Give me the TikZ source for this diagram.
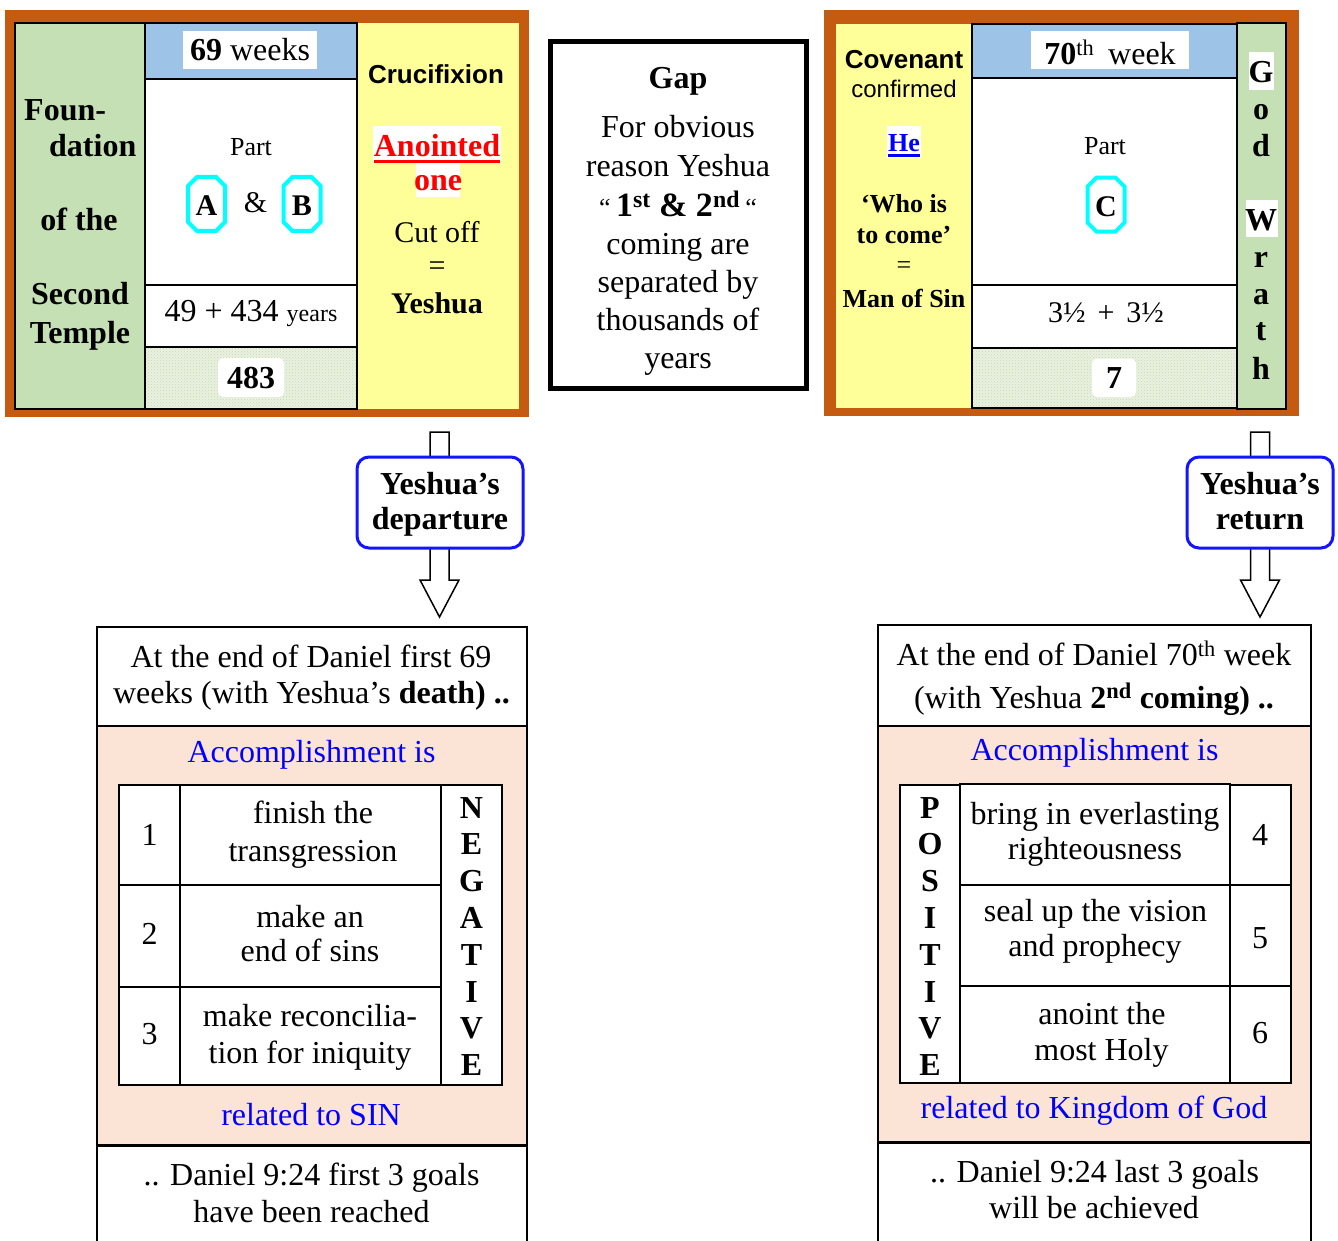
\documentclass[tikz,border=0pt]{standalone}
\usepackage{fontspec}
\setmainfont{Liberation Serif}
\newfontfamily\arialf{Liberation Sans}
\usetikzlibrary{fit,calc,patterns}
\definecolor{orng}{RGB}{197,90,17}
\definecolor{grn}{RGB}{197,224,180}
\definecolor{blu}{RGB}{157,195,230}
\definecolor{yel}{RGB}{255,255,153}
\definecolor{pnk}{RGB}{251,228,213}
\definecolor{patbg}{RGB}{234,241,224}
\definecolor{patfg}{RGB}{196,216,178}
\definecolor{ybl}{RGB}{20,20,255}
\definecolor{cyn}{RGB}{0,255,255}
\newcommand\blockarrow[2]{%
  \draw[line width=1.5pt, fill=white] ($(#1)+(-9.5,0)$) -- ($(#1)+(9.5,0)$) -- ($(#2)+(9.5,-37)$) -- ($(#2)+(19.5,-37)$) -- (#2) -- ($(#2)+(-19.5,-37)$) -- ($(#2)+(-9.5,-37)$) -- cycle;}
\newcommand\octagonat[1]{%
  \draw[cyn, line width=4pt, fill=white] ($(#1)+(-18.5,-18)$) -- ($(#1)+(-9.5,-27)$) -- ($(#1)+(9.5,-27)$) -- ($(#1)+(18.5,-18)$) -- ($(#1)+(18.5,18)$) -- ($(#1)+(9.5,27)$) -- ($(#1)+(-9.5,27)$) -- ($(#1)+(-18.5,18)$) -- cycle;}
\begin{document}
\begin{tikzpicture}[x=1pt,y=-1pt,
  blk/.style={inner sep=0pt, outer sep=0pt},
  cell/.style={blk, draw, line width=2pt},
  hatch/.style={fill=patbg, postaction={pattern=crosshatch dots, pattern color=patfg}},
  txt/.style={inner sep=0pt, anchor=base, font=\fontsize{32}{38}\selectfont},
  txtb/.style={txt, font=\bfseries\fontsize{32}{38}\selectfont},
  cth/.style={txt, font=\fontsize{30}{36}\selectfont},
  cthb/.style={txt, font=\bfseries\fontsize{30}{36}\selectfont},
  mid/.style={txt, font=\fontsize{26}{30}\selectfont},
  midb/.style={txt, font=\bfseries\fontsize{26}{30}\selectfont},
  sans/.style={txt, font=\arialf\fontsize{24}{28}\selectfont},
  sansb/.style={txt, font=\arialf\bfseries\fontsize{26}{30}\selectfont},
  octl/.style={inner sep=0pt, font=\bfseries\fontsize{30}{34}\selectfont},
  ybox/.style={blk, draw=ybl, line width=3pt, rounded corners=12pt, fill=white},
  blueT/.style={txt, text=blue}
]
\useasboundingbox (0,0) rectangle (1338,1241);
\fill[white] (0,0) rectangle (1338,1241);

% ================= TOP LEFT =================
\node[blk, fill=orng, fit={(5,10)(529,417)}] (tl) {};
\node[blk, fill=yel, fit={(357,23)(519,409)}] (tlyel) {};
\node[cell, fill=grn, fit={(15,23)(145,409)}] (tlgrn) {};
\node[cell, fill=blu, fit={(145,23)(357,79)}] (tlhead) {};
\node[cell, fill=white, fit={(145,79)(357,285)}] (tlpart) {};
\node[cell, fill=white, fit={(145,285)(357,347)}] (tlyears) {};
\node[cell, hatch, fit={(145,347)(357,409)}] (tlsum) {};
\draw[line width=2pt] (tlsum.north west) rectangle (tlsum.south east);

\node[txtb, anchor=base west] (f1) at (24,121) {Foun-};
\node[txtb, anchor=base west] (f2) at (49,157) {dation};
\node[txtb] (f3) at (79,231) {of the};
\node[txtb] (f4) at (80,305) {Second};
\node[txtb] (f5) at (80,343) {Temple};

\node[blk, fill=white, fit={(183,31)(317,69)}] (w69box) {};
\node[txt] (w69) at (250,61) {\textbf{69} weeks};
\node[mid] (tlparttxt) at (251,156) {Part};
\coordinate (octA) at (206.5,204);
\octagonat{octA}
\node[octl] (oA) at (206.5,206) {A};
\node[cth] (amp) at (255.5,213) {\&};
\coordinate (octB) at (302,204);
\octagonat{octB}
\node[octl] (oB) at (302,206) {B};
\node[txt] (yrs) at (251,321) {49 + 434 {\fontsize{24}{28}\selectfont years}};
\node[blk, fill=white, rounded corners=5pt, fit={(218,358)(284,397)}] (b483) {};
\node[txtb] (t483) at (251,388) {483};

\node[sansb] (cruc) at (436,84) {Crucifixion};
\node[blk, fill=white, fit={(373,126)(501,163)}] (anbox) {};
\node[txtb, text=red] (anoint) at (437,157) {Anointed};
\draw[red, line width=3pt] ([yshift=-4.5pt]anoint.base west) -- ([yshift=-4.5pt]anoint.base east);
\node[blk, fill=white, fit={(416,163)(460,197)}] (onebox) {};
\node[txtb, text=red] (one) at (438,191) {one};
\node[cth] (cut) at (437,242.5) {Cut off};
\node[cth, anchor=center] (eq1) at (437,269) {=};
\node[cthb] (yesh) at (437,313) {Yeshua};

% ================= GAP =================
\node[blk, draw, line width=5pt, fill=white, fit={(550,42)(806,388)}] (gap) {};
\node[txtb] (gapt) at (678,89) {Gap};
\node[txt] (g1) at (678,138) {For obvious};
\node[txt] (g2) at (678,176.5) {reason Yeshua};
\node[txt] (g3) at (678,217) {{\fontsize{26}{30}\selectfont “}\,\textbf{\fontsize{34}{38}\selectfont 1\textsuperscript{st} \& 2\textsuperscript{nd}}\,{\fontsize{26}{30}\selectfont “}};
\node[txt] (g4) at (678,255) {coming are};
\node[txt] (g5) at (678,292.5) {separated by};
\node[txt] (g6) at (678,330.5) {thousands of};
\node[txt] (g7) at (678,368) {years};

% ================= TOP RIGHT =================
\node[blk, fill=orng, fit={(824,10)(1299,416)}] (tr) {};
\node[blk, fill=yel, fit={(836,24)(972,408)}] (tryel) {};
\node[cell, fill=blu, fit={(972,24)(1237,78)}] (trhead) {};
\node[cell, fill=white, fit={(972,78)(1237,285)}] (trpart) {};
\node[cell, fill=white, fit={(972,285)(1237,348)}] (trhalf) {};
\node[cell, hatch, fit={(972,348)(1237,408)}] (trsum) {};
\draw[line width=2pt] (trsum.north west) rectangle (trsum.south east);
\node[cell, fill=grn, fit={(1237,23)(1286,409)}] (trgrn) {};

\node[sansb] (cov) at (904,69) {Covenant};
\node[sans] (conf) at (904,98) {confirmed};
\node[blk, fill=white, fit={(887,126)(921,158)}] (hebox) {};
\node[midb, text=blue] (he) at (904,152) {He};
\draw[blue, line width=2.5pt] ([yshift=-3.5pt]he.base west) -- ([yshift=-3.5pt]he.base east);
\node[midb] (who1) at (904,213) {‘Who is};
\node[midb] (who2) at (904,244) {to come’};
\node[mid, anchor=center] (eq2) at (904,267.5) {=};
\node[midb] (mos) at (904,307.5) {Man of Sin};

\node[blk, fill=white, fit={(1031,31)(1189,69)}] (w70box) {};
\node[txt] (w70) at (1110,65) {\textbf{70}\textsuperscript{th}\hspace{14pt}week};
\node[mid] (trparttxt) at (1105,154.5) {Part};
\coordinate (octC) at (1106,204.6);
\octagonat{octC}
\node[octl] (oC) at (1106,206.6) {C};
\node[cth] (half) at (1106,322.7) {3½\hspace{12pt}+\hspace{12pt}3½};
\node[blk, fill=white, rounded corners=5pt, fit={(1092,358.5)(1136,397)}] (b7box) {};
\node[txtb] (t7) at (1114,388.6) {7};

\node[blk, fill=white, fit={(1249,52.5)(1274,89.6)}] (gbox) {};
\node[blk, fill=white, fit={(1246,200)(1278,237.5)}] (wbox) {};
\foreach \l/\yy [count=\i] in {G/83,o/119.7,d/156.5,W/230.8,r/267.6,a/304,t/340.5,h/379.6}
  \node[txtb] (gw\i) at (1261,\yy) {\l};

% ================= ARROWS =================
\coordinate (la1) at (439.5,432);
\coordinate (la2) at (439.5,617);
\blockarrow{la1}{la2}
\node[ybox, fit={(357,457)(523,548)}] (dep) {};
\node[txtb] (dep1) at (440,494) {Yeshua’s};
\node[txtb] (dep2) at (440,529) {departure};

\coordinate (ra1) at (1260,432);
\coordinate (ra2) at (1260,617);
\blockarrow{ra1}{ra2}
\node[ybox, fit={(1187,457)(1333,548)}] (ret) {};
\node[txtb] (ret1) at (1260,494) {Yeshua’s};
\node[txtb] (ret2) at (1260,529) {return};

% ================= BOTTOM LEFT =================
\node[cell, fill=white, fit={(97,627)(527,726)}] (blhead) {};
\node[cell, fill=pnk, fit={(97,726)(527,1145)}] (blpink) {};
\node[cell, fill=white, fit={(97,1145)(527,1262)}] (blfoot) {};
\draw[line width=3pt] (blfoot.north west) -- (blfoot.north east);
\node[txt] (bl1) at (311,667) {At the end of Daniel first 69};
\node[txt] (bl2) at (311.5,703.5) {weeks (with Yeshua’s \textbf{death) ..}};
\node[blueT] (bl3) at (311.5,762) {Accomplishment is};
\node[cell, fill=white, fit={(119,785)(180,885)}] (ln1) {};
\node[cell, fill=white, fit={(119,885)(180,987)}] (ln2) {};
\node[cell, fill=white, fit={(119,987)(180,1085)}] (ln3) {};
\node[cell, fill=white, fit={(180,785)(441,885)}] (lc1) {};
\node[cell, fill=white, fit={(180,885)(441,987)}] (lc2) {};
\node[cell, fill=white, fit={(180,987)(441,1085)}] (lc3) {};
\node[cell, fill=white, fit={(441,785)(502,1085)}] (lneg) {};
\node[txt] (lnum1) at (149.5,845.7) {1};
\node[txt] (lnum2) at (149.5,944.7) {2};
\node[txt] (lnum3) at (149.5,1044.5) {3};
\node[txt] (lt1a) at (313,823) {finish the};
\node[txt] (lt1b) at (313,861) {transgression};
\node[txt] (lt2a) at (310,927) {make an};
\node[txt] (lt2b) at (310,961.5) {end of sins};
\node[txt] (lt3a) at (310,1026) {make reconcilia-};
\node[txt] (lt3b) at (310,1063) {tion for iniquity};
\foreach \l [count=\i] in {N,E,G,A,T,I,V,E}
  \node[txtb] (neg\i) at (471.5,{818+36.8*(\i-1)}) {\l};
\node[blueT] (bl4) at (311,1125.5) {related to SIN};
\node[txt] (bl5) at (311.5,1185.5) {.. Daniel 9:24 first 3 goals};
\node[txt] (bl6) at (311.5,1222.5) {have been reached};

% ================= BOTTOM RIGHT =================
\node[cell, fill=white, fit={(878,625)(1311,725.5)}] (brhead) {};
\node[cell, fill=pnk, fit={(878,725.5)(1311,1142.5)}] (brpink) {};
\node[cell, fill=white, fit={(878,1142.5)(1311,1262)}] (brfoot) {};
\draw[line width=3pt] (brfoot.north west) -- (brfoot.north east);
\node[txt] (br1) at (1094,665.5) {At the end of Daniel 70\textsuperscript{th} week};
\node[txt] (br2) at (1094,708) {(with Yeshua \textbf{2\textsuperscript{nd} coming) ..}};
\node[blueT] (br3) at (1094.5,760.5) {Accomplishment is};
\node[cell, fill=white, fit={(900,785)(960,1083)}] (rpos) {};
\node[cell, fill=white, fit={(960,784)(1230,885)}] (rc1) {};
\node[cell, fill=white, fit={(960,885)(1230,986)}] (rc2) {};
\node[cell, fill=white, fit={(960,986)(1230,1083)}] (rc3) {};
\node[cell, fill=white, fit={(1230,785)(1291,885)}] (rn1) {};
\node[cell, fill=white, fit={(1230,885)(1291,986)}] (rn2) {};
\node[cell, fill=white, fit={(1230,986)(1291,1083)}] (rn3) {};
\foreach \l [count=\i] in {P,O,S,I,T,I,V,E}
  \node[txtb] (pos\i) at (930,{818+36.8*(\i-1)}) {\l};
\node[txt] (rt1a) at (1095,824) {bring in everlasting};
\node[txt] (rt1b) at (1095,859.5) {righteousness};
\node[txt] (rt2a) at (1095.5,921) {seal up the vision};
\node[txt] (rt2b) at (1095,956.5) {and prophecy};
\node[txt] (rt3a) at (1102,1024) {anoint the};
\node[txt] (rt3b) at (1101.5,1060) {most Holy};
\node[txt] (rnum1) at (1260,845.7) {4};
\node[txt] (rnum2) at (1260,948.7) {5};
\node[txt] (rnum3) at (1260,1043) {6};
\node[blueT] (br4) at (1094,1118) {related to Kingdom of God};
\node[txt] (br5) at (1094.5,1182) {.. Daniel 9:24 last 3 goals};
\node[txt] (br6) at (1094,1218.8) {will be achieved};
\end{tikzpicture}
\end{document}
